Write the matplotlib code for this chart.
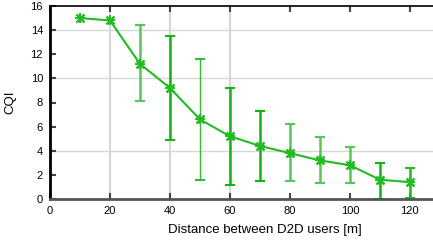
import matplotlib
matplotlib.use("Agg")
import matplotlib.pyplot as plt
import numpy as np

plt.rcParams['font.family'] = ['Liberation Sans', 'DejaVu Sans']

distance = [10, 20, 30, 40, 50, 60, 70, 80, 90, 100, 110, 120]
cqi = [15.0, 14.8, 11.2, 9.2, 6.6, 5.2, 4.4, 3.8, 3.2, 2.8, 1.6, 1.4]
err_low = [15.0, 14.8, 8.1, 4.9, 1.6, 1.2, 1.5, 1.5, 1.3, 1.3, 0.0, 0.1]
err_high = [15.0, 14.8, 14.4, 13.5, 11.6, 9.2, 7.3, 6.2, 5.1, 4.3, 3.0, 2.6]
err_colors = ['#22bb22', '#22bb22', '#55c855', '#11b511', '#33bb33', '#11b511',
              '#11b511', '#55c855', '#55c855', '#55c855', '#11b511', '#22bb22']
err_widths = [1.8, 1.8, 1.8, 1.8, 1.0, 1.8, 1.8, 1.8, 1.8, 1.8, 1.8, 1.8]

xticks = [0, 20, 40, 60, 80, 100, 120]
yticks = [0, 2, 4, 6, 8, 10, 12, 14, 16]

fig = plt.figure(figsize=(4.33, 2.46), dpi=100)
ax = fig.add_axes([50/433, 47/246, 383/433, 193/246])

# grid lines that show in the reference
for gx in [20, 40, 60]:
    ax.axvline(gx, color='#d6d6d6', lw=1.5, zorder=0)
for gy in [4, 10, 14]:
    ax.axhline(gy, color='#d6d6d6', lw=1.0, zorder=0)

for x, lo, hi, c, w in zip(distance, err_low, err_high, err_colors, err_widths):
    if hi - lo < 0.05:
        continue
    ax.plot([x, x], [lo, hi], color=c, lw=w, zorder=2, solid_capstyle='butt')
    ax.plot([x - 1.2, x + 1.2], [lo, lo], color=c, lw=1.5, zorder=2)
    ax.plot([x - 1.2, x + 1.2], [hi, hi], color=c, lw=1.5, zorder=2)

ax.plot(distance, cqi, color='#22bb22', lw=1.5, zorder=3)
ax.plot(distance, cqi, ls='none', marker='x', markersize=6, markeredgewidth=1.8,
        color='#22bb22', zorder=4, clip_on=False)
ax.plot(distance, cqi, ls='none', marker='+', markersize=7, markeredgewidth=1.4,
        color='#22bb22', zorder=4, clip_on=False)

ax.set_xlim(0, 127.7)
ax.set_ylim(0, 16)
ax.set_xticks(xticks)
ax.set_yticks(yticks)
ax.tick_params(axis='both', direction='in', labelsize=8, length=4, width=1.5,
               colors='#444444', labelcolor='black', pad=5)
ax.tick_params(axis='x', top=True)

ax.spines['right'].set_visible(False)
ax.spines['left'].set_color('black')
ax.spines['left'].set_linewidth(2)
ax.spines['top'].set_color('black')
ax.spines['top'].set_linewidth(1.2)
ax.spines['bottom'].set_color('#555555')
ax.spines['bottom'].set_linewidth(2)

ax.set_xlabel('Distance between D2D users [m]', fontsize=9.5)
ax.xaxis.set_label_coords(0.56, -0.13)
ax.set_ylabel('CQI', fontsize=9.5, labelpad=10)

fig.savefig('out.png', dpi=100)
